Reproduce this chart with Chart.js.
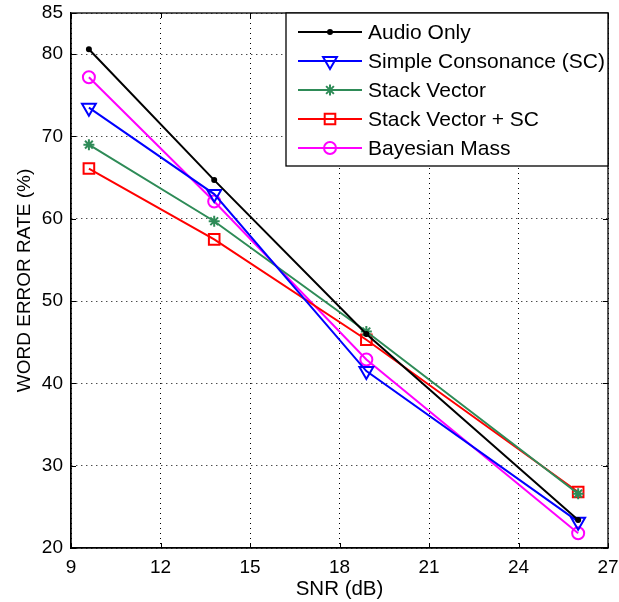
<!DOCTYPE html>
<html>
<head>
<meta charset="utf-8">
<script src="https://cdn.jsdelivr.net/npm/chart.js@4.4.1/dist/chart.umd.min.js"></script>
<style>
  html, body { margin: 0; padding: 0; background: #fff; }
  #wrap { width: 619px; height: 602px; }
</style>
</head>
<body>
<div id="wrap"><canvas id="c" width="619" height="602"></canvas></div>
<script>
// ---- data ----
const snr = [9.6, 13.8, 18.9, 26.0];
const audioOnly = [80.6, 64.7, 46.0, 23.4];
const simpleConsonance = [73.5, 63.0, 41.5, 23.2];
const stackVector = [69.0, 59.7, 46.3, 26.6];
const stackVectorSC = [66.1, 57.5, 45.3, 26.8];
const bayesianMass = [77.2, 62.1, 42.9, 21.8];
const seriesNames = ['Audio Only', 'Simple Consonance (SC)', 'Stack Vector', 'Stack Vector + SC', 'Bayesian Mass'];
const xTicks = [9, 12, 15, 18, 21, 24, 27];
const yTicks = [20, 30, 40, 50, 60, 70, 80, 85];

const FONT = 'Liberation Sans, Arial, sans-serif';

function pts(vals) { return snr.map((x, i) => ({ x: x, y: vals[i] })); }

const styles = [
  { color: '#000000', pointStyle: 'circle', radius: 2, fill: '#000000', rotation: 0 },
  { color: '#0000ff', pointStyle: 'triangle', radius: 8, fill: 'rgba(0,0,0,0)', rotation: 180 },
  { color: '#2e8b57', pointStyle: 'star', radius: 5.5, fill: 'rgba(0,0,0,0)', rotation: 0 },
  { color: '#ff0000', pointStyle: 'rect', radius: 7.5, fill: 'rgba(0,0,0,0)', rotation: 0 },
  { color: '#ff00ff', pointStyle: 'circle', radius: 6, fill: 'rgba(0,0,0,0)', rotation: 0 }
];
const seriesData = [audioOnly, simpleConsonance, stackVector, stackVectorSC, bayesianMass];

const datasets = seriesData.map((vals, i) => ({
  label: seriesNames[i],
  data: pts(vals),
  borderColor: styles[i].color,
  backgroundColor: styles[i].fill,
  pointBorderColor: styles[i].color,
  pointBackgroundColor: styles[i].fill,
  pointStyle: styles[i].pointStyle,
  pointRadius: styles[i].radius,
  pointRotation: styles[i].rotation,
  pointBorderWidth: 2,
  pointHoverRadius: styles[i].radius,
  borderWidth: 2,
  tension: 0,
  fill: false
}));

const frame = {
  id: 'frame',
  afterDraw(chart) {
    const ctx = chart.ctx;
    const a = chart.chartArea;
    const xs = chart.scales.x, ys = chart.scales.y;
    ctx.save();
    ctx.strokeStyle = '#000';
    ctx.lineWidth = 1.3;
    ctx.setLineDash([]);
    ctx.strokeRect(a.left, a.top, a.right - a.left, a.bottom - a.top);
    // inward tick marks
    ctx.lineWidth = 1;
    ctx.beginPath();
    xs.ticks.forEach(t => {
      const px = Math.round(xs.getPixelForValue(t.value)) + 0.5;
      ctx.moveTo(px, a.bottom); ctx.lineTo(px, a.bottom - 5);
      ctx.moveTo(px, a.top); ctx.lineTo(px, a.top + 5);
    });
    ys.ticks.forEach(t => {
      const py = Math.round(ys.getPixelForValue(t.value)) + 0.5;
      ctx.moveTo(a.left, py); ctx.lineTo(a.left + 5, py);
      ctx.moveTo(a.right, py); ctx.lineTo(a.right - 5, py);
    });
    ctx.stroke();

    // legend box
    const bx = 286, by = a.top, bw = a.right - 286, bh = 153;
    ctx.fillStyle = '#fff';
    ctx.fillRect(bx, by, bw, bh);
    ctx.lineWidth = 1.3;
    ctx.strokeRect(bx, by, bw, bh);
    chart.data.datasets.forEach((ds, i) => {
      const y = 32 + i * 29;
      ctx.strokeStyle = ds.borderColor;
      ctx.lineWidth = 2;
      ctx.beginPath();
      ctx.moveTo(298, y); ctx.lineTo(362, y);
      ctx.stroke();
      ctx.fillStyle = ds.pointBackgroundColor;
      ctx.strokeStyle = ds.pointBorderColor;
      Chart.helpers.drawPoint(ctx, {
        pointStyle: ds.pointStyle, rotation: ds.pointRotation,
        radius: ds.pointRadius, borderWidth: 2
      }, 330, y);
      ctx.fillStyle = '#000';
      ctx.font = '21px ' + FONT;
      ctx.textBaseline = 'middle';
      ctx.textAlign = 'left';
      ctx.fillText(ds.label, 368, y + 1);
    });
    ctx.restore();
  }
};

new Chart(document.getElementById('c'), {
  type: 'line',
  data: { datasets: datasets },
  options: {
    responsive: false,
    animation: false,
    events: [],
    layout: { padding: { top: 13, right: 11, left: 0, bottom: 0 } },
    plugins: { legend: { display: false }, tooltip: { enabled: false } },
    scales: {
      x: {
        type: 'linear',
        min: 9, max: 27,
        afterBuildTicks: s => { s.ticks = xTicks.map(v => ({ value: v })); },
        afterFit: s => { s.height = 54; s.paddingLeft = 0; s.paddingRight = 0; },
        ticks: { color: '#000', font: { family: FONT, size: 19 }, padding: 8, maxRotation: 0 },
        grid: { color: '#000', lineWidth: 1, drawTicks: false },
        border: { display: true, color: '#000', width: 1.3, dash: [1, 4] },
        title: { display: true, text: 'SNR (dB)', color: '#000', font: { family: FONT, size: 20.5 }, padding: { top: 0, bottom: 0 } }
      },
      y: {
        type: 'linear',
        min: 20, max: 85,
        afterBuildTicks: s => { s.ticks = yTicks.map(v => ({ value: v })); },
        afterFit: s => { s.width = 71; s.paddingTop = 0; s.paddingBottom = 0; },
        ticks: { color: '#000', font: { family: FONT, size: 19 }, padding: 8 },
        grid: { color: '#000', lineWidth: 1, drawTicks: false },
        border: { display: true, color: '#000', width: 1.3, dash: [1, 4] },
        title: { display: true, text: 'WORD ERROR RATE (%)', color: '#000', font: { family: FONT, size: 19 }, padding: { top: 13, bottom: 0 } }
      }
    }
  },
  plugins: [frame]
});
</script>
</body>
</html>
